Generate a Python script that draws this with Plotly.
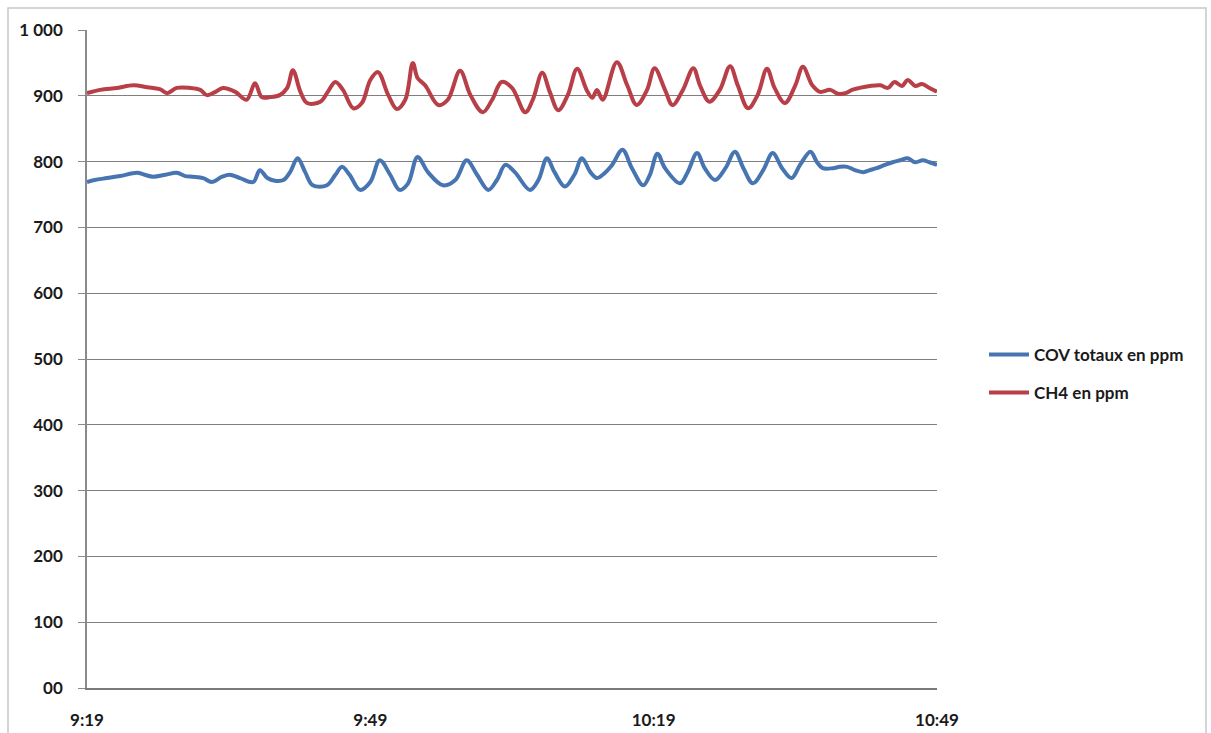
import pandas as pd
import plotly.graph_objects as go

# ---- data ----
START = "2013-01-01 09:19:00"

cov_minutes = [0, 0.8, 2.1, 3.5, 5.3, 6.1, 7.0, 8.3, 9.5, 10.4, 11.2, 12.3, 13.2, 14.3, 15.1, 16.2,
               17.6, 18.3, 19.1, 19.9, 20.8, 21.5, 22.3, 23.1, 23.9, 25.4, 26.3, 27.0, 27.8, 28.9,
               30.0, 31.0, 32.1, 33.1, 34.0, 35.0, 36.1, 37.7, 39.0, 40.2, 41.3, 42.5, 43.4, 44.3,
               45.3, 46.9, 47.8, 48.7, 49.5, 50.6, 51.6, 52.4, 53.3, 54.0, 54.6, 55.6, 56.7, 57.7,
               58.9, 59.6, 60.4, 61.2, 62.8, 63.6, 64.6, 65.4, 66.5, 67.6, 68.6, 69.5, 70.5, 71.6,
               72.6, 73.6, 74.6, 75.5, 76.6, 77.3, 77.9, 79.0, 79.7, 80.5, 81.3, 82.2, 82.9, 83.6,
               84.5, 85.3, 86.1, 86.9, 87.7, 88.5, 89.2, 90.0]
cov_ppm = [769, 772, 775, 778, 783, 780, 777, 780, 783, 778, 777, 775, 769, 777, 780, 775,
           769, 787, 775, 771, 772, 784, 805, 784, 764, 764, 780, 792, 780, 757,
           769, 802, 780, 757, 767, 807, 784, 764, 772, 802, 780, 757, 772, 795,
           784, 757, 772, 805, 784, 762, 780, 805, 784, 775, 780, 795, 818, 790,
           764, 780, 812, 790, 767, 784, 813, 790, 772, 790, 815, 790, 767, 787,
           813, 790, 775, 795, 815, 799, 790, 790, 792, 792, 787, 784, 787, 790,
           795, 799, 802, 805, 799, 802, 799, 795]

ch4_minutes = [0, 1.4, 3.2, 4.9, 6.4, 7.7, 8.5, 9.5, 10.9, 12.0, 12.7, 13.6, 14.4, 15.7, 16.9,
               17.8, 18.5, 19.4, 20.4, 21.2, 21.8, 22.6, 23.3, 24.7, 25.5, 26.3, 27.1, 28.2, 29.1,
               30.0, 30.8, 31.9, 32.8, 33.7, 34.5, 35.0, 35.8, 37.2, 38.2, 39.5, 40.6, 41.9, 42.9,
               43.9, 45.0, 46.4, 47.2, 48.2, 49.0, 49.9, 50.9, 51.9, 52.9, 53.5, 54.0, 54.6, 56.1,
               57.2, 58.2, 59.3, 60.1, 61.2, 62.0, 63.1, 64.2, 64.9, 65.9, 67.0, 68.1, 68.9, 70.0,
               71.0, 72.0, 72.8, 73.9, 75.0, 75.8, 76.8, 77.6, 78.7, 79.5, 80.3, 81.0, 81.8, 82.9,
               84.0, 84.8, 85.5, 86.3, 86.9, 87.7, 88.4, 89.2, 90.0]
ch4_ppm = [904, 909, 912, 916, 913, 910, 904, 912, 912, 909, 901, 906, 912, 906, 894,
           919, 898, 898, 901, 912, 939, 906, 889, 891, 906, 921, 909, 881, 889,
           924, 936, 901, 880, 894, 950, 927, 916, 886, 894, 938, 901, 875, 894,
           921, 912, 875, 894, 935, 906, 878, 901, 941, 909, 897, 909, 894, 951,
           916, 886, 909, 942, 909, 886, 909, 942, 916, 891, 909, 945, 916, 881,
           901, 941, 912, 889, 916, 944, 916, 906, 909, 903, 904, 909, 912, 915,
           916, 912, 921, 915, 924, 915, 918, 912, 906]

series_names = ["COV totaux en ppm", "CH4 en ppm"]
x_tick_minutes = [0, 30, 60, 90]
x_tick_labels = ["9:19", "9:49", "10:19", "10:49"]
y_tick_values = [0, 100, 200, 300, 400, 500, 600, 700, 800, 900, 1000]
y_tick_labels = ["00", "100", "200", "300", "400", "500", "600", "700", "800", "900", "1 000"]

# ---- build ----
start = pd.Timestamp(START)
to_time = lambda mins: [start + pd.Timedelta(minutes=m) for m in mins]

BLUE = "#4675b2"
RED = "#b83f48"
FONT = "Lato"
FS = 17
TXT = "#1a1a1a"

fig = go.Figure()
fig.add_trace(go.Scatter(x=to_time(cov_minutes), y=cov_ppm, mode="lines", name=series_names[0],
                         line=dict(color=BLUE, width=4, shape="spline", smoothing=1.0),
                         legend="legend"))
fig.add_trace(go.Scatter(x=to_time(ch4_minutes), y=ch4_ppm, mode="lines", name=series_names[1],
                         line=dict(color=RED, width=4, shape="spline", smoothing=1.0),
                         legend="legend2"))

L, R, T, B = 87, 937, 30, 688
W, H = 1211, 733
pw, ph = R - L, B - T

def px(xpix):
    return (xpix - L) / pw

def py(ypix):
    return (B - ypix) / ph

bold = dict(family=FONT, size=FS, color=TXT, weight="bold")

fig.update_layout(
    width=W, height=H,
    margin=dict(l=L, r=W - R, t=T, b=H - B, pad=0, autoexpand=False),
    paper_bgcolor="white", plot_bgcolor="white",
    font=dict(family=FONT, size=FS, color=TXT),
    showlegend=True,
    legend=dict(x=px(984), y=py(355), xanchor="left", yanchor="middle",
                font=bold, bgcolor="rgba(0,0,0,0)", itemwidth=40),
    legend2=dict(x=px(984), y=py(393), xanchor="left", yanchor="middle",
                 font=bold, bgcolor="rgba(0,0,0,0)", itemwidth=40),
    xaxis=dict(
        range=[start, start + pd.Timedelta(minutes=90)],
        tickvals=to_time(x_tick_minutes), ticktext=x_tick_labels,
        tickfont=bold, automargin=False,
        showgrid=False, zeroline=False,
        showline=True, linecolor="#7a7a7a", linewidth=2,
        ticks="outside", ticklen=0, ticklabelstandoff=16,
    ),
    yaxis=dict(
        range=[0, 1000],
        tickvals=y_tick_values, ticktext=y_tick_labels,
        tickfont=bold, automargin=False,
        showgrid=True, gridcolor="#7f7f7f", gridwidth=1,
        zeroline=False,
        showline=True, linecolor="#8a8a8a", linewidth=1.5,
        ticks="outside", ticklen=7, tickcolor="#8a8a8a", ticklabelstandoff=12,
    ),
    shapes=[dict(type="rect", xref="paper", yref="paper",
                 x0=px(8), x1=px(1206), y0=py(745), y1=py(8),
                 line=dict(color="#c8c8c8", width=1.5), fillcolor="rgba(0,0,0,0)",
                 layer="below")],
)

fig.write_html("out.html")
